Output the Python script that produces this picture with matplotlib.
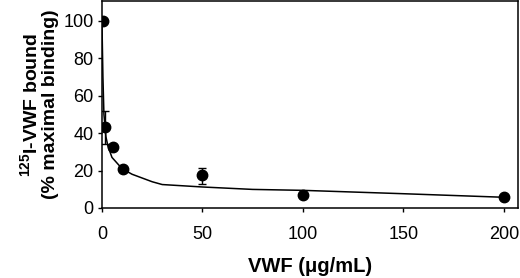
import numpy as np
import matplotlib
matplotlib.use('Agg')
import matplotlib.pyplot as plt

# measured points
vwf_conc = [0.5, 1.3, 5.5, 10.3, 50, 100, 200]
bound_pct = [100, 43.2, 32.7, 20.6, 17.4, 6.9, 5.9]
err_lo = [0, 8.9, 0, 0, 4.4, 0, 0]
err_hi = [0, 8.8, 0, 0, 4.2, 0, 0]

# fitted curve
fit_x = [0, 0.5, 1, 2, 3, 5, 10, 15, 20, 25, 30, 50, 75, 100, 150, 200]
fit_y = [100, 70, 50, 38, 33, 27, 21, 18, 16, 14, 12.5, 11.2, 9.9, 9.4, 7.6, 5.7]

plt.rcParams['font.family'] = ['Liberation Sans', 'DejaVu Sans']
plt.rcParams['mathtext.fontset'] = 'custom'
plt.rcParams['mathtext.rm'] = 'Liberation Sans'
plt.rcParams['mathtext.bf'] = 'Liberation Sans:bold'

fig = plt.figure(figsize=(5.2, 2.78), dpi=100)
ax = fig.add_axes([0.196, 0.252, 0.8, 0.744])

ax.plot(fit_x, fit_y, color='black', lw=1.1, zorder=2)
ax.errorbar(vwf_conc, bound_pct, yerr=[err_lo, err_hi], fmt='o', color='black',
            ms=7.5, capsize=3, elinewidth=1, capthick=1, zorder=3)

ax.set_xlim(0, 207)
ax.set_ylim(0, 110.5)
ax.set_xticks([0, 50, 100, 150, 200])
ax.set_yticks([0, 20, 40, 60, 80, 100])
ax.tick_params(direction='out', length=3, width=1, labelsize=13, pad=10)
ax.tick_params(axis='y', pad=3)
for s in ax.spines.values():
    s.set_linewidth(1.1)

ax.set_xlabel('VWF (\u03bcg/mL)', fontsize=14.5, fontweight='bold', labelpad=10)
ax.set_ylabel('$\\mathbf{^{125}}$I-VWF bound\n(% maximal binding)', fontsize=14,
              fontweight='bold', labelpad=3, linespacing=1.1)

fig.savefig('out.png', dpi=100, facecolor='white')
